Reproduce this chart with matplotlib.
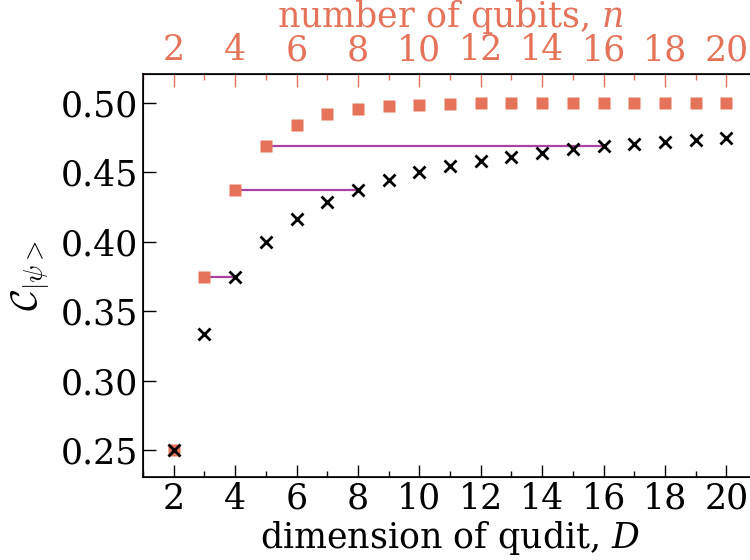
import matplotlib
matplotlib.use("Agg")
import matplotlib.pyplot as plt
from matplotlib.ticker import MultipleLocator

# qudit dimension D and concurrence-like value
qudit_D = list(range(2, 21))
qudit_C = [0.25, 0.3333, 0.375, 0.4, 0.4167, 0.4286, 0.4375, 0.4444, 0.45, 0.4545,
           0.4583, 0.4615, 0.4643, 0.4667, 0.4688, 0.4706, 0.4722, 0.4737, 0.475]

# number of qubits n
qubit_n = list(range(2, 21))
qubit_C = [0.25, 0.375, 0.4375, 0.46875, 0.4844, 0.4922, 0.4961, 0.498, 0.499, 0.4995,
           0.4998, 0.4999, 0.5, 0.5, 0.5, 0.5, 0.5, 0.5, 0.5]

# connectors: n qubits -> D = 2^(n-1)
link_n = [3, 4, 5]
link_D = [4, 8, 16]
link_C = [0.375, 0.4375, 0.46875]

orange = '#e5735a'
purple = '#a8439f'

plt.rcParams['font.family'] = 'DejaVu Serif'
plt.rcParams['mathtext.fontset'] = 'dejavuserif'
plt.rcParams['font.size'] = 25

fig = plt.figure(figsize=(7.5, 5.6), dpi=100)
ax = fig.add_axes([143/750, 83/560, 614/750, 403/560])

for a, b, c in zip(link_n, link_D, link_C):
    ax.plot([a, b], [c, c], color=purple, lw=1.6, zorder=2)
ax.plot(qubit_n, qubit_C, 's', color=orange, ms=8.5, mec='none', zorder=3)
ax.plot(qudit_D, qudit_C, 'x', color='black', ms=8, mew=2, zorder=4)

ax.set_xlim(1, 21)
ax.set_ylim(0.2305, 0.521)
ax.xaxis.set_minor_locator(MultipleLocator(1))
ax.set_yticks([0.25, 0.30, 0.35, 0.40, 0.45, 0.50])
ax.set_xticks(range(2, 21, 2))
ax.tick_params(axis='both', which='major', direction='in', length=9, width=1)
ax.tick_params(axis='x', which='minor', direction='in', length=4.5, width=1)
ax.tick_params(axis='x', which='both', top=False)
ax.set_xlabel(r'dimension of qudit, $D$', labelpad=2)
ax.set_ylabel(r'$\mathcal{C}_{|\psi>}$', labelpad=6, math_fontfamily='cm', fontsize=27)
for s in ax.spines.values():
    s.set_linewidth(1.2)

top = ax.twiny()
top.set_xlim(ax.get_xlim())
top.set_xticks(range(2, 21, 2))
top.xaxis.set_minor_locator(MultipleLocator(1))
top.tick_params(axis='x', which='major', direction='in', length=9, width=1,
                colors=orange, pad=5)
top.tick_params(axis='x', which='minor', direction='in', length=4.5, width=1,
                colors=orange)
top.set_xlabel(r'number of qubits, $n$', color=orange, labelpad=4)

plt.savefig('out.png', dpi=100)
